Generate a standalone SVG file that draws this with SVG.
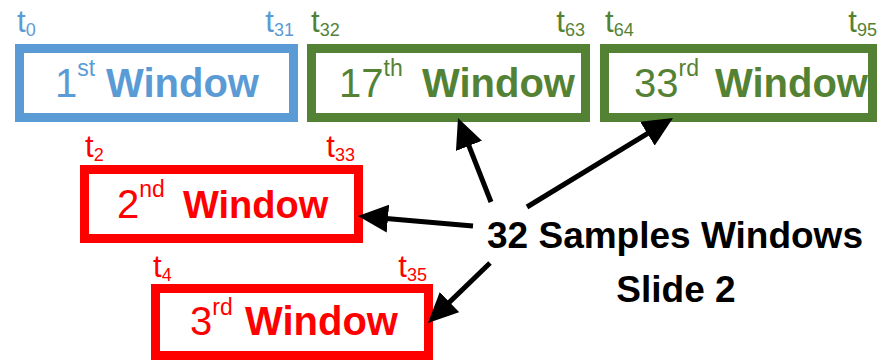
<svg xmlns="http://www.w3.org/2000/svg" width="887" height="360" viewBox="0 0 887 360">
<style>
  text { font-family: "Liberation Sans", Arial, sans-serif; }
  .box { fill: #ffffff; stroke-width: 9; }
  .blue { stroke: #5B9BD5; }
  .green { stroke: #548235; }
  .red { stroke: #FF0000; }
  .tb { fill: #5B9BD5; }
  .tg { fill: #548235; }
  .tr { fill: #FF0000; }
  .lbl { font-size: 31px; }
  .sub { font-size: 18px; }
  .num { font-size: 40px; }
  .sup { font-size: 23px; }
  .win { font-size: 40px; font-weight: bold; }
  .cap { font-size: 37px; font-weight: bold; fill: #000000; }
  .conn { stroke: #000000; stroke-width: 5; fill: none; marker-end: url(#ah); }
</style>
<defs>
  <marker id="ah" markerUnits="userSpaceOnUse" viewBox="0 0 30 28" refX="22" refY="14" markerWidth="30" markerHeight="28" orient="auto">
    <path d="M0,0 L30,14 L0,28 z" fill="#000000"/>
  </marker>
</defs>

<g id="win1">
  <rect class="box blue" x="19.5" y="48.5" width="274" height="69"/>
  <text class="lbl tb" x="17" y="32">t<tspan class="sub" dy="4">0</tspan></text>
  <text class="lbl tb" x="294" y="32" text-anchor="end">t<tspan class="sub" dy="4">31</tspan></text>
  <text class="tb" y="97"><tspan class="num" x="55">1</tspan><tspan class="sup" dy="-21">st</tspan><tspan class="win" x="106" dy="21">Window</tspan></text>
</g>

<g id="win17">
  <rect class="box green" x="311.5" y="48.5" width="274" height="69"/>
  <text class="lbl tg" x="311" y="32">t<tspan class="sub" dy="4">32</tspan></text>
  <text class="lbl tg" x="585" y="32" text-anchor="end">t<tspan class="sub" dy="4">63</tspan></text>
  <text class="tg" y="97"><tspan class="num" x="339">17</tspan><tspan class="sup" dy="-21">th</tspan><tspan class="win" x="422" dy="21">Window</tspan></text>
</g>

<g id="win33">
  <rect class="box green" x="604.5" y="48.5" width="268" height="69"/>
  <text class="lbl tg" x="605" y="32">t<tspan class="sub" dy="4">64</tspan></text>
  <text class="lbl tg" x="877" y="32" text-anchor="end">t<tspan class="sub" dy="4">95</tspan></text>
  <text class="tg" y="97"><tspan class="num" x="634">33</tspan><tspan class="sup" dy="-21">rd</tspan><tspan class="win" x="715" dy="21">Window</tspan></text>
</g>

<g id="win2">
  <rect class="box red" x="84.5" y="169.5" width="274" height="69"/>
  <text class="lbl tr" x="85" y="157">t<tspan class="sub" dy="4">2</tspan></text>
  <text class="lbl tr" x="355" y="157" text-anchor="end">t<tspan class="sub" dy="4">33</tspan></text>
  <text class="tr" y="218"><tspan class="num" x="117">2</tspan><tspan class="sup" dy="-21">nd</tspan><tspan class="win" x="183" dy="21" style="font-size:38px">Window</tspan></text>
</g>

<g id="win3">
  <rect class="box red" x="155.5" y="288.5" width="273" height="67"/>
  <text class="lbl tr" x="153" y="277">t<tspan class="sub" dy="4">4</tspan></text>
  <text class="lbl tr" x="427" y="277" text-anchor="end">t<tspan class="sub" dy="4">35</tspan></text>
  <text class="tr" y="335"><tspan class="num" x="190">3</tspan><tspan class="sup" dy="-20">rd</tspan><tspan class="win" x="245" dy="20">Window</tspan></text>
</g>

<g id="caption">
  <text class="cap" x="675" y="248" text-anchor="middle">32 Samples Windows</text>
  <text class="cap" x="676" y="302" text-anchor="middle">Slide 2</text>
</g>

<g id="connectors">
  <line class="conn" x1="491" y1="202" x2="460.9" y2="125.4"/>
  <line class="conn" x1="527" y1="207" x2="666.2" y2="122.2"/>
  <line class="conn" x1="473" y1="226" x2="366" y2="216.7"/>
  <line class="conn" x1="490" y1="263" x2="433.7" y2="317.4"/>
</g>
</svg>
